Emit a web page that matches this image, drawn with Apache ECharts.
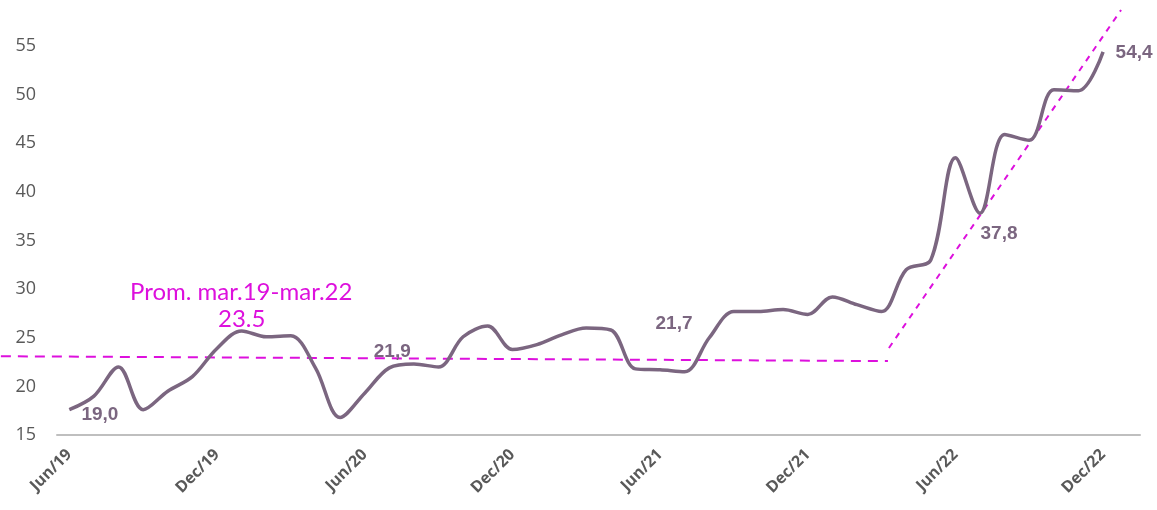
<!DOCTYPE html>
<html>
<head>
<meta charset="utf-8">
<script src="https://cdn.jsdelivr.net/npm/echarts@6/dist/echarts.min.js"></script>
<style>
  html, body { margin: 0; padding: 0; background: #fff; }
  #chart { width: 1157px; height: 510px; }
</style>
</head>
<body>
<div id="chart"></div>
<script>
// monthly categories Jun/19 .. Dec/22, plus one empty slot at the end
var months = ['Jan','Feb','Mar','Apr','May','Jun','Jul','Aug','Sep','Oct','Nov','Dec'];
var categories = [];
for (var y = 19; y <= 22; y++) {
  for (var m = 0; m < 12; m++) {
    if (y === 19 && m < 5) continue;
    categories.push(months[m] + '/' + y);
  }
}
categories.push('');

var values = [
  17.6, 19.0, 22.0, 17.6, 19.5, 21.0, 23.9, 25.7, 25.1, 25.2,
  21.9, 16.8, 19.3, 21.9, 22.3, 22.0, 25.1, 26.2, 23.8, 24.3,
  25.3, 26.0, 25.8, 21.8, 21.7, 21.5, 25.0, 27.7, 27.7, 27.9,
  27.4, 29.2, 28.4, 27.7, 32.0, 33.0, 43.5, 37.8, 45.9, 45.3,
  50.5, 50.4, 54.4
];

// which points carry a value label
var labelled = [1, 13, 24, 37, 42];

// annotation lines, in [category position, value]
var avgLine = [[-2.78, 23.1], [33.26, 22.6]];
var trendLine = [[33.3, 23.95], [42.73, 58.7]];

var lineColor = '#7B6680';
var magenta = '#DD10DD';

// layout of the main plot
var W = 1157, H = 510;
var gL = 57, gR = 17, gT = 46, gB = 75;
var yMin = 15, yMax = 55;
var nCat = categories.length;
var catW = (W - gL - gR) / nCat;
var pxPerUnit = (H - gT - gB) / (yMax - yMin);

// a second full-canvas grid, scaled the same, so annotation lines can run past the plot
var ovXMin = -0.5 - gL / catW;
var ovXMax = ovXMin + W / catW;
var ovYMax = yMax + gT / pxPerUnit;
var ovYMin = yMin - gB / pxPerUnit;

var labelCfg = {
  1:  { position: 'bottom', offset: [6, 4] },
  13: { position: 'top', offset: [3, -1] },
  24: { position: 'top', offset: [14, -31] },
  37: { position: 'bottom', offset: [19, 5] },
  42: { position: 'right', offset: [7, 1] }
};

var valueLabel = {
  color: lineColor,
  fontFamily: 'Liberation Sans',
  fontWeight: 'bold',
  fontSize: 19
};

var seriesData = values.map(function (v, i) {
  var item = { value: v };
  if (labelled.indexOf(i) >= 0) {
    item.label = Object.assign({
      show: true,
      position: labelCfg[i].position,
      offset: labelCfg[i].offset
    }, valueLabel);
  }
  return item;
});

var chart = echarts.init(document.getElementById('chart'));

var option = {
  animation: false,
  grid: [
    { left: gL, right: gR, top: gT, bottom: gB, containLabel: false },
    { left: 0, right: 0, top: 0, bottom: 0, containLabel: false }
  ],
  xAxis: [
    {
      type: 'category',
      data: categories,
      boundaryGap: true,
      axisLine: { lineStyle: { color: '#BFBFBF', width: 2 } },
      axisTick: { show: false },
      axisLabel: {
        interval: 5,
        rotate: 45,
        margin: 17,
        color: '#595959',
        fontFamily: 'Open Sans',
        fontWeight: 'bold',
        fontSize: 16
      }
    },
    { type: 'value', gridIndex: 1, min: ovXMin, max: ovXMax, show: false }
  ],
  yAxis: [
    {
      type: 'value',
      min: yMin,
      max: yMax,
      interval: 5,
      splitLine: { show: false },
      axisLine: { show: false },
      axisTick: { show: false },
      axisLabel: {
        margin: 21,
        color: '#595959',
        fontFamily: 'Open Sans',
        fontSize: 18
      }
    },
    { type: 'value', gridIndex: 1, min: ovYMin, max: ovYMax, show: false }
  ],
  graphic: [
    {
      type: 'text',
      left: 130,
      top: 280,
      z: 0,
      style: {
        text: 'Prom. mar.19-mar.22',
        fill: magenta,
        font: '24px Lato'
      }
    },
    {
      type: 'text',
      left: 218,
      top: 307,
      z: 0,
      style: {
        text: '23.5',
        fill: magenta,
        font: '24px Lato'
      }
    }
  ],
  series: [
    {
      type: 'line',
      xAxisIndex: 1,
      yAxisIndex: 1,
      data: avgLine,
      symbol: 'none',
      silent: true,
      lineStyle: { color: magenta, width: 2, type: [10, 7] },
      z: 1
    },
    {
      type: 'line',
      xAxisIndex: 1,
      yAxisIndex: 1,
      data: trendLine,
      symbol: 'none',
      silent: true,
      lineStyle: { color: magenta, width: 2, type: [6, 6] },
      z: 1
    },
    {
      type: 'line',
      data: seriesData,
      smooth: 0.34,
      symbol: 'circle',
      symbolSize: 1,
      showSymbol: true,
      showAllSymbol: true,
      itemStyle: { color: 'rgba(0,0,0,0)' },
      lineStyle: { color: lineColor, width: 3.5 },
      label: Object.assign({
        show: false,
        formatter: function (p) { return p.value.toFixed(1).replace('.', ','); }
      }, valueLabel),
      z: 3
    }
  ]
};

chart.setOption(option);
</script>
</body>
</html>
